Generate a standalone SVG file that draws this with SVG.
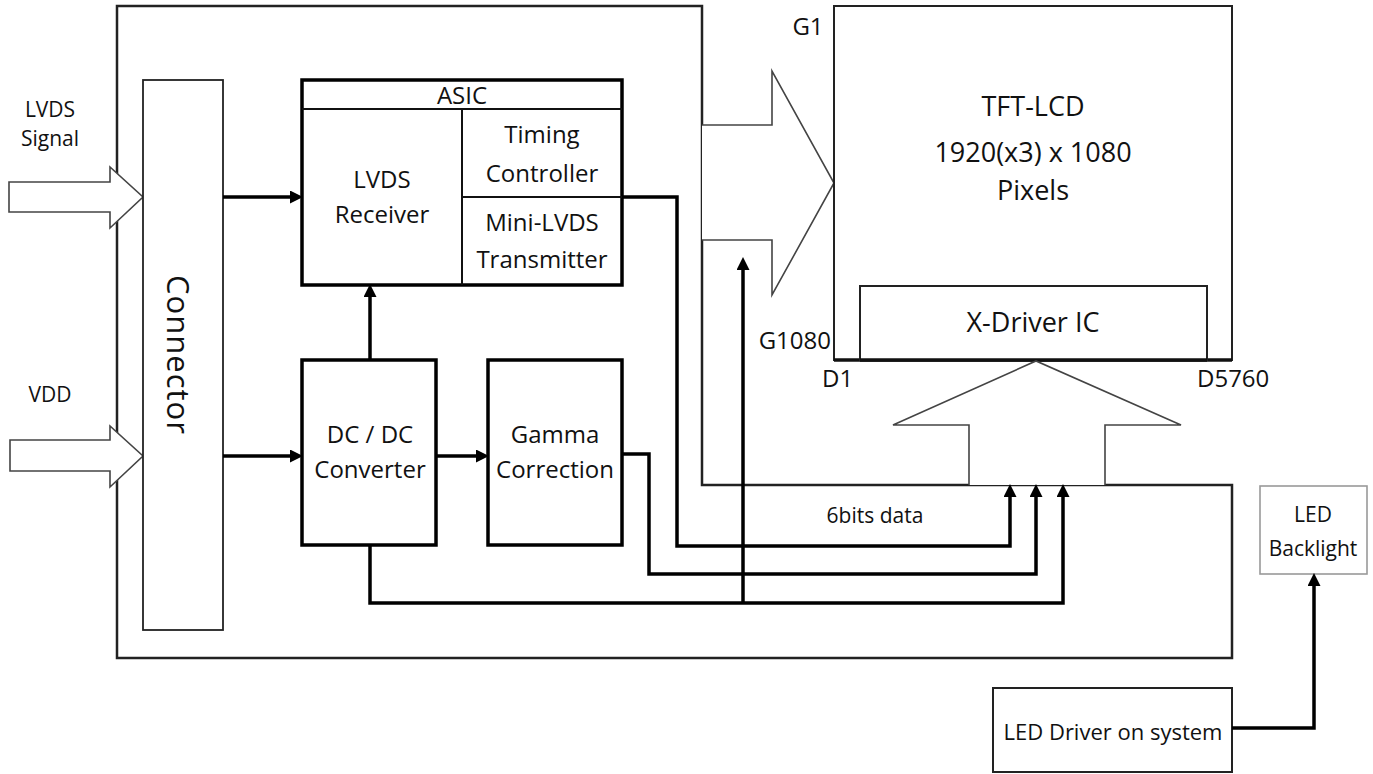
<svg xmlns="http://www.w3.org/2000/svg" width="1373" height="774" viewBox="0 0 1373 774">
<style>
  text { font-family: "Open Sans", "Noto Sans", "Liberation Sans", sans-serif; fill: #111; text-anchor: middle; }
  .frame { fill: none; stroke: #222; stroke-width: 2.5; }
  .thin { fill: none; stroke: #333; stroke-width: 2; }
  .hollow { fill: #fff; stroke: #444; stroke-width: 1.6; stroke-linejoin: miter; }
  .blk { fill: #fff; stroke: #000; stroke-width: 3.5; }
  .div { fill: none; stroke: #111; stroke-width: 2; }
  .wire { fill: none; stroke: #000; stroke-width: 3.5; stroke-linejoin: miter; }
  .arr { marker-end: url(#ah); }
  .lbl { font-size: 24px; }
  .big { font-size: 27px; }
  .pin { font-size: 24px; }
  .side { font-size: 21px; }
</style>
<defs>
  <marker id="ah" markerUnits="userSpaceOnUse" markerWidth="14" markerHeight="14" refX="4" refY="6.5" orient="auto">
    <path d="M0,0 L13,6.5 L0,13 Z" fill="#000"/>
  </marker>
</defs>

<g id="module-frame">
  <path class="frame" d="M117,6 H702 V485 H1232 V658 H117 Z"/>
</g>

<g id="lvds-input">
  <polygon class="hollow" points="9,182 110,182 110,167 143,197 110,228 110,212 9,212"/>
  <text class="side" x="50" y="117">LVDS</text>
  <text class="side" x="50" y="146">Signal</text>
</g>

<g id="vdd-input">
  <polygon class="hollow" points="10,440 110,440 110,426 143,456 110,487 110,471 10,471"/>
  <text class="side" x="50" y="402">VDD</text>
</g>

<g id="connector">
  <rect x="143" y="80" width="80" height="550" fill="#fff" stroke="#222" stroke-width="1.8"/>
  <text transform="translate(167,355) rotate(90)" font-size="31" letter-spacing="1">Connector</text>
</g>

<g id="asic">
  <rect class="blk" x="302" y="80" width="320" height="205"/>
  <line class="div" x1="302" y1="109" x2="622" y2="109"/>
  <line class="div" x1="462" y1="109" x2="462" y2="285"/>
  <line class="div" x1="462" y1="197" x2="622" y2="197"/>
  <text class="lbl" x="462" y="104">ASIC</text>
  <text class="lbl" x="382" y="188">LVDS</text>
  <text class="lbl" x="382" y="223">Receiver</text>
  <text class="lbl" x="542" y="143">Timing</text>
  <text class="lbl" x="542" y="182">Controller</text>
  <text class="lbl" x="542" y="231">Mini-LVDS</text>
  <text class="lbl" x="542" y="268">Transmitter</text>
</g>

<g id="dcdc">
  <rect class="blk" x="302" y="360" width="134" height="185"/>
  <text class="lbl" x="370" y="443">DC / DC</text>
  <text class="lbl" x="370" y="478">Converter</text>
</g>

<g id="gamma">
  <rect class="blk" x="488" y="360" width="134" height="185"/>
  <text class="lbl" x="555" y="443">Gamma</text>
  <text class="lbl" x="555" y="478">Correction</text>
</g>

<g id="gate-arrow">
  <polyline class="hollow" points="702,125 772,125 772,71 834,183 772,295 772,240 702,240"/>
</g>

<g id="tft-lcd">
  <rect x="834" y="6" width="398" height="354" fill="#fff" stroke="#222" stroke-width="2"/>
  <line x1="834" y1="360" x2="1232" y2="360" stroke="#111" stroke-width="3.5"/>
  <text class="big" x="1033" y="116">TFT-LCD</text>
  <text class="big" x="1033" y="162">1920(x3) x 1080</text>
  <text class="big" x="1033" y="200">Pixels</text>
  <text class="pin" x="808" y="35">G1</text>
  <text class="pin" x="831" y="349" style="text-anchor:end">G1080</text>
  <text class="pin" x="822" y="387" style="text-anchor:start">D1</text>
  <text class="pin" x="1197" y="387" style="text-anchor:start">D5760</text>
</g>

<g id="x-driver">
  <rect x="860" y="286" width="347" height="74" fill="#fff" stroke="#222" stroke-width="2"/>
  <line x1="860" y1="360" x2="1207" y2="360" stroke="#111" stroke-width="3.5"/>
  <text x="1033" y="332" font-size="27">X-Driver IC</text>
</g>

<g id="data-arrow">
  <polyline class="hollow" points="969,485 969,425 893,425 1036,361 1181,425 1105,425 1105,485"/>
</g>

<g id="led-backlight">
  <rect x="1260" y="486" width="107" height="88" fill="#fff" stroke="#999" stroke-width="1.6"/>
  <text class="side" x="1313" y="522">LED</text>
  <text class="side" x="1313" y="556">Backlight</text>
</g>

<g id="led-driver">
  <rect x="993" y="688" width="239" height="84" fill="#fff" stroke="#222" stroke-width="2"/>
  <text x="1113" y="740" font-size="22">LED Driver on system</text>
</g>

<g id="connectors">
  <path class="wire arr" d="M223,197 H294"/>
  <path class="wire arr" d="M223,456 H294"/>
  <path class="wire arr" d="M370,360 V293"/>
  <path class="wire arr" d="M436,456 H480"/>
  <path class="wire arr" d="M622,197 H677 V546 H1010 V493"/>
  <path class="wire arr" d="M622,454 H649 V574 H1036 V493"/>
  <path class="wire arr" d="M370,545 V603 H1063 V493"/>
  <path class="wire arr" d="M743,603 V266"/>
  <path class="wire arr" d="M1232,728 H1314 V582"/>
  <text class="side" x="875" y="523">6bits data</text>
</g>
</svg>
